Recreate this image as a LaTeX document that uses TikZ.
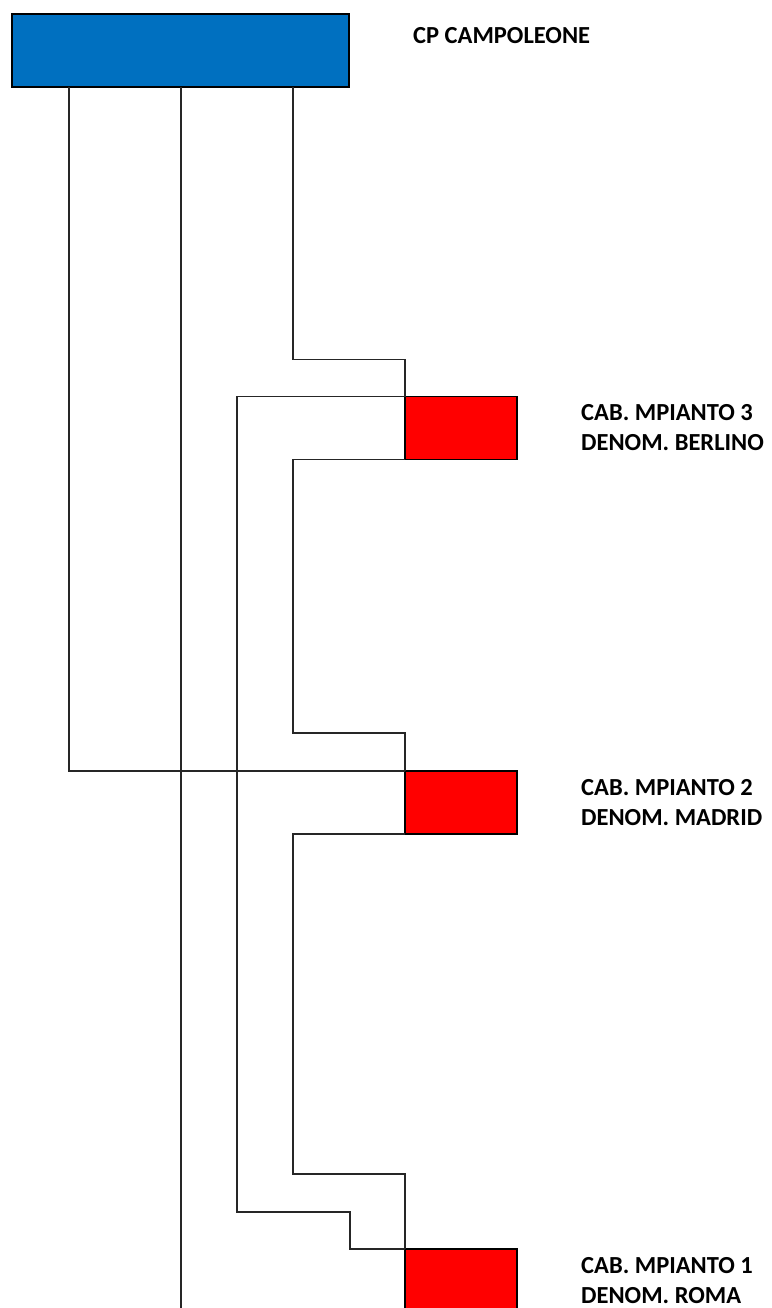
\documentclass[tikz,border=0pt]{standalone}
\usepackage{fontspec}
\setmainfont{Carlito}
\usetikzlibrary{positioning,calc}

\begin{document}
\begin{tikzpicture}[x=1pt,y=-1pt,
		hub/.style={draw=black,line width=1.2pt,fill={rgb,255:red,0;green,112;blue,192},minimum width=337pt,minimum height=73pt,outer sep=0pt,inner sep=0pt},
		cab/.style={draw=black,line width=1.2pt,fill=red,minimum width=112pt,minimum height=63pt,outer sep=0pt,inner sep=0pt},
		lbl/.style={font=\bfseries\fontsize{24.5}{30}\selectfont,align=left,inner sep=0pt},
		wire/.style={draw=black!85,line width=1.7pt}]
		\path[use as bounding box,clip](0,0)rectangle(771,1308);
		\coordinate (xa) at (69,1310);
		\coordinate (xb) at (181,1310);
		\coordinate (xc) at (293,1310);
		\coordinate (xd) at (237,1310);
		\coordinate (xe) at (350,1310);
		\node[hub](cp) at (180.5,50.5){};
		\node[cab](berlino) at (461,428){};
		\node[cab](madrid) at (461,802.5){};
		\node[cab](roma) at (461,1280.5){};
		% wires
		\draw[wire](cp.south-|xc)|-($(berlino.north west)+(0,37pt)$)--(berlino.north west);
		\draw[wire](berlino.south west)-|($(madrid.north west-|xc)+(0,38pt)$)-|(madrid.north west);
		\draw[wire](madrid.south west)-|($(roma.north west-|xc)+(0,75pt)$)-|(roma.north west);
		\draw[wire](cp.south-|xa)|-(madrid.north west);
		\draw[wire](berlino.north west)-|($(roma.north west-|xd)+(0,37pt)$)-|(roma.north west-|xe)--(roma.north west);
		\draw[wire](cp.south-|xb)--(xb);
		% labels
		\node[lbl,right=64pt of cp,yshift=14.5pt](cplbl){CP CAMPOLEONE};
		\node[lbl,right=64pt of berlino](berlinolbl){CAB. MPIANTO 3\\DENOM. BERLINO};
		\node[lbl,right=64pt of madrid](madridlbl){CAB. MPIANTO 2\\DENOM. MADRID};
		\node[lbl,right=64pt of roma](romalbl){CAB. MPIANTO 1\\DENOM. ROMA};
		\end{tikzpicture}
\end{document}
